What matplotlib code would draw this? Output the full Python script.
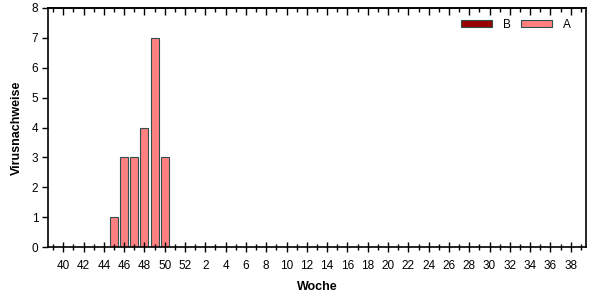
import numpy as np
from matplotlib import pyplot as plt

weeks = list(range(39, 53)) + list(range(1, 40))
tick_weeks = [w for w in weeks if w % 2 == 0]
cases_a = {45: 1, 46: 3, 47: 3, 48: 4, 49: 7, 50: 3}
cases_b = {}

vals_a = [cases_a.get(w, 0) for w in weeks]
vals_b = [cases_b.get(w, 0) for w in weeks]

plt.rcParams['font.family'] = ['Liberation Sans', 'DejaVu Sans']

fig = plt.figure(figsize=(6.02, 3.0), dpi=100)
ax = fig.add_axes([48 / 602, 1 - 247 / 300, 538 / 602, 239 / 300])

x = np.arange(len(weeks))
bars_b = ax.bar(x, vals_b, width=0.8, color='#990000', edgecolor='#2F4F4F', linewidth=0)
bars_a = ax.bar(x, vals_a, width=0.8, bottom=vals_b, color='#FF8080',
                edgecolor='#2F4F4F', linewidth=0.8)

ax.set_xlim(-0.5, len(weeks) - 0.5)
ax.set_ylim(0, 8)

major = [i for i, w in enumerate(weeks) if w % 2 == 0]
minor = [i for i, w in enumerate(weeks) if w % 2 == 1]
ax.set_xticks(major)
ax.set_xticklabels([str(w) for w in tick_weeks])
ax.set_xticks(minor, minor=True)
ax.tick_params(axis='x', which='major', direction='inout', length=7, width=1,
               labelsize=8.5, pad=6)
ax.tick_params(axis='x', which='minor', direction='inout', length=4, width=1)
ax.set_yticks(range(0, 9))
ax.tick_params(axis='y', which='major', direction='out', length=4, width=1,
               labelsize=8.5, pad=3)

# top ticks point inward only
top = ax.secondary_xaxis('top')
top.set_xticks(major)
top.set_xticks(minor, minor=True)
top.tick_params(which='major', direction='in', length=5, width=1, labeltop=False)
top.tick_params(which='minor', direction='in', length=3, width=1)
top.spines['top'].set_linewidth(1.2)

for s in ax.spines.values():
    s.set_linewidth(1.2)

ax.set_xlabel('Woche', fontsize=9, fontweight='bold', labelpad=6)
ax.set_ylabel('Virusnachweise', fontsize=9, fontweight='bold', labelpad=6)

leg = ax.legend([bars_b, bars_a], ['B', 'A'], ncol=2, frameon=False, fontsize=8.5,
                loc='center', bbox_to_anchor=(516 / 602, 1 - 25 / 300),
                bbox_transform=fig.transFigure, handlelength=2.6, handleheight=0.5,
                handletextpad=0.9, columnspacing=0.9)
leg.legend_handles[0].set_linewidth(0.8)

plt.savefig('out.png', dpi=100)
